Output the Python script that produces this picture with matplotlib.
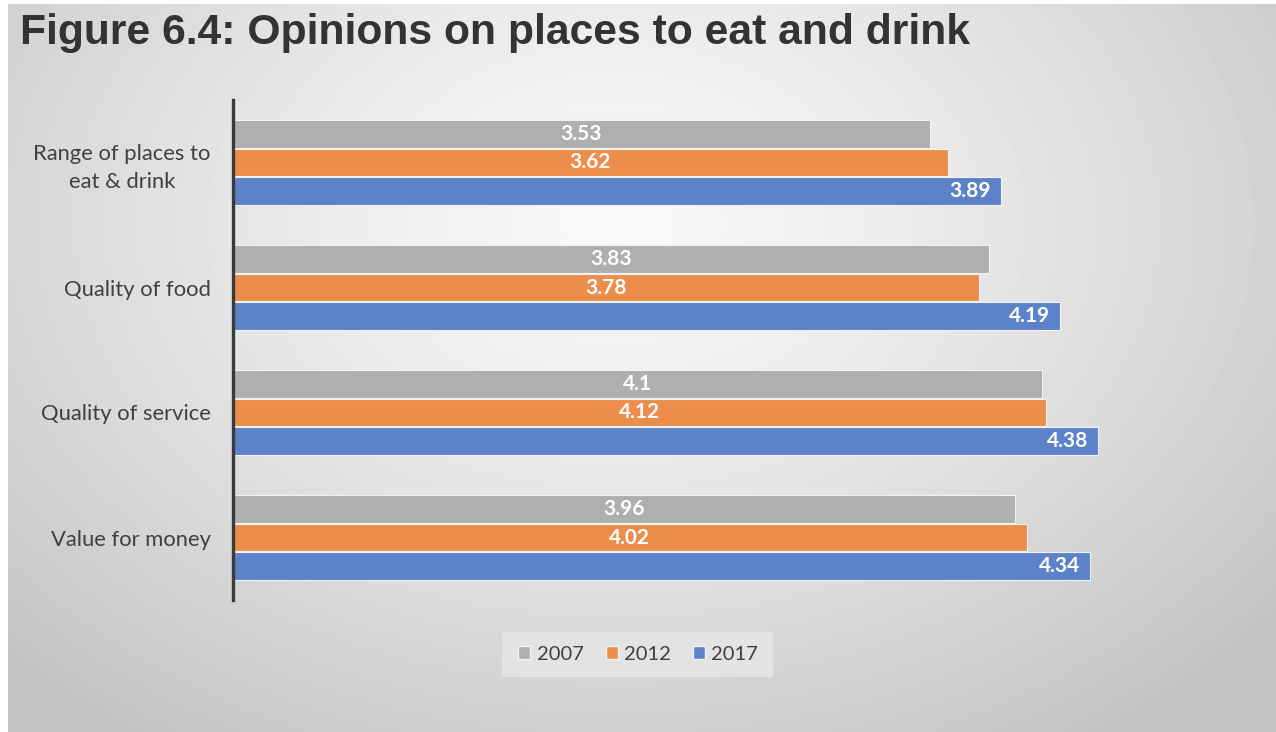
import numpy as np
import matplotlib.pyplot as plt
from matplotlib.patches import Patch, Rectangle

categories = ["Range of places to\neat & drink", "Quality of food",
              "Quality of service", "Value for money"]
years = ["2007", "2012", "2017"]
scores_2007 = [3.53, 3.83, 4.1, 3.96]
scores_2012 = [3.62, 3.78, 4.12, 4.02]
scores_2017 = [3.89, 4.19, 4.38, 4.34]
series = [scores_2007, scores_2012, scores_2017]
colors = ["#afafaf", "#ec8d4c", "#5c83c9"]

W, H = 1276, 732
fig = plt.figure(figsize=(W / 100, H / 100), dpi=100)
fig.patch.set_facecolor("white")

# soft radial grey backdrop
bg = fig.add_axes([8 / W, 0, 1 - 8 / W, 1 - 4 / H])
gx, gy = np.meshgrid(np.linspace(0, 1, 400), np.linspace(0, 1, 240))
r = np.sqrt(((gx - 0.48) / 0.75) ** 2 + ((gy - 0.30) / 0.95) ** 2)
shade = np.clip(0.975 - 0.24 * r ** 1.3, 0.76, 1.0)
bg.imshow(shade, cmap="gray", vmin=0, vmax=1, aspect="auto",
          extent=[0, 1, 1, 0], interpolation="bicubic")
bg.set_axis_off()

fig.text(20 / W, 1 - 33 / H, "Figure 6.4: Opinions on places to eat and drink",
         fontsize=30.7, fontweight="bold", family="Liberation Sans",
         color="#333333", va="center", ha="left")

ax = fig.add_axes([233 / W, 1 - 600 / H, (1220 - 233) / W, 500 / H])
ax.set_facecolor("none")
ax.set_xlim(0, 5)
ax.set_ylim(3.5, -0.5)

y = np.arange(len(categories))
bar_h = 0.218
offsets = [-0.228, 0.0, 0.228]
for k, (vals, col) in enumerate(zip(series, colors)):
    bars = ax.barh(y + offsets[k], vals, height=bar_h, color=col,
                   edgecolor="#f2f2f2", linewidth=0.8)
    for b, v in zip(bars, vals):
        yc = b.get_y() + b.get_height() / 2
        if k < 2:
            ax.text(v / 2, yc, f"{v:g}", ha="center", va="center",
                    color="white", fontsize=15, fontweight="bold", family="Lato")
        else:
            ax.annotate(f"{v:g}", (v, yc), xytext=(-7, 0), textcoords="offset points",
                        ha="right", va="center", color="white", fontsize=15,
                        fontweight="bold", family="Lato")

ax.set_yticks(y)
ax.set_yticklabels(categories, fontsize=15.8, family="Lato", color="#404040",
                   linespacing=1.5, multialignment="center")
ax.tick_params(axis="y", length=0, pad=16)
ax.set_xticks([])
for side in ["top", "right", "bottom"]:
    ax.spines[side].set_visible(False)
ax.spines["left"].set_color("#3a3a3a")
ax.spines["left"].set_linewidth(2.4)

# legend panel
fig.add_artist(Rectangle((502 / W, 1 - 677 / H), 271 / W, 45 / H,
                         transform=fig.transFigure, facecolor="#e3e3e3",
                         edgecolor="none", zorder=1))
handles = [Patch(facecolor=c, edgecolor="#f2f2f2", label=yr) for c, yr in zip(colors, years)]
leg = fig.legend(handles=handles, loc="center", bbox_to_anchor=(638 / W, 1 - 654 / H),
                 ncol=3, frameon=False, handlelength=0.6, handleheight=0.6,
                 handletextpad=0.3, columnspacing=1.1,
                 prop={"family": "Lato", "size": 14.5})
leg.set_zorder(2)
for t in leg.get_texts():
    t.set_color("#404040")

fig.savefig("out.png", dpi=100)
